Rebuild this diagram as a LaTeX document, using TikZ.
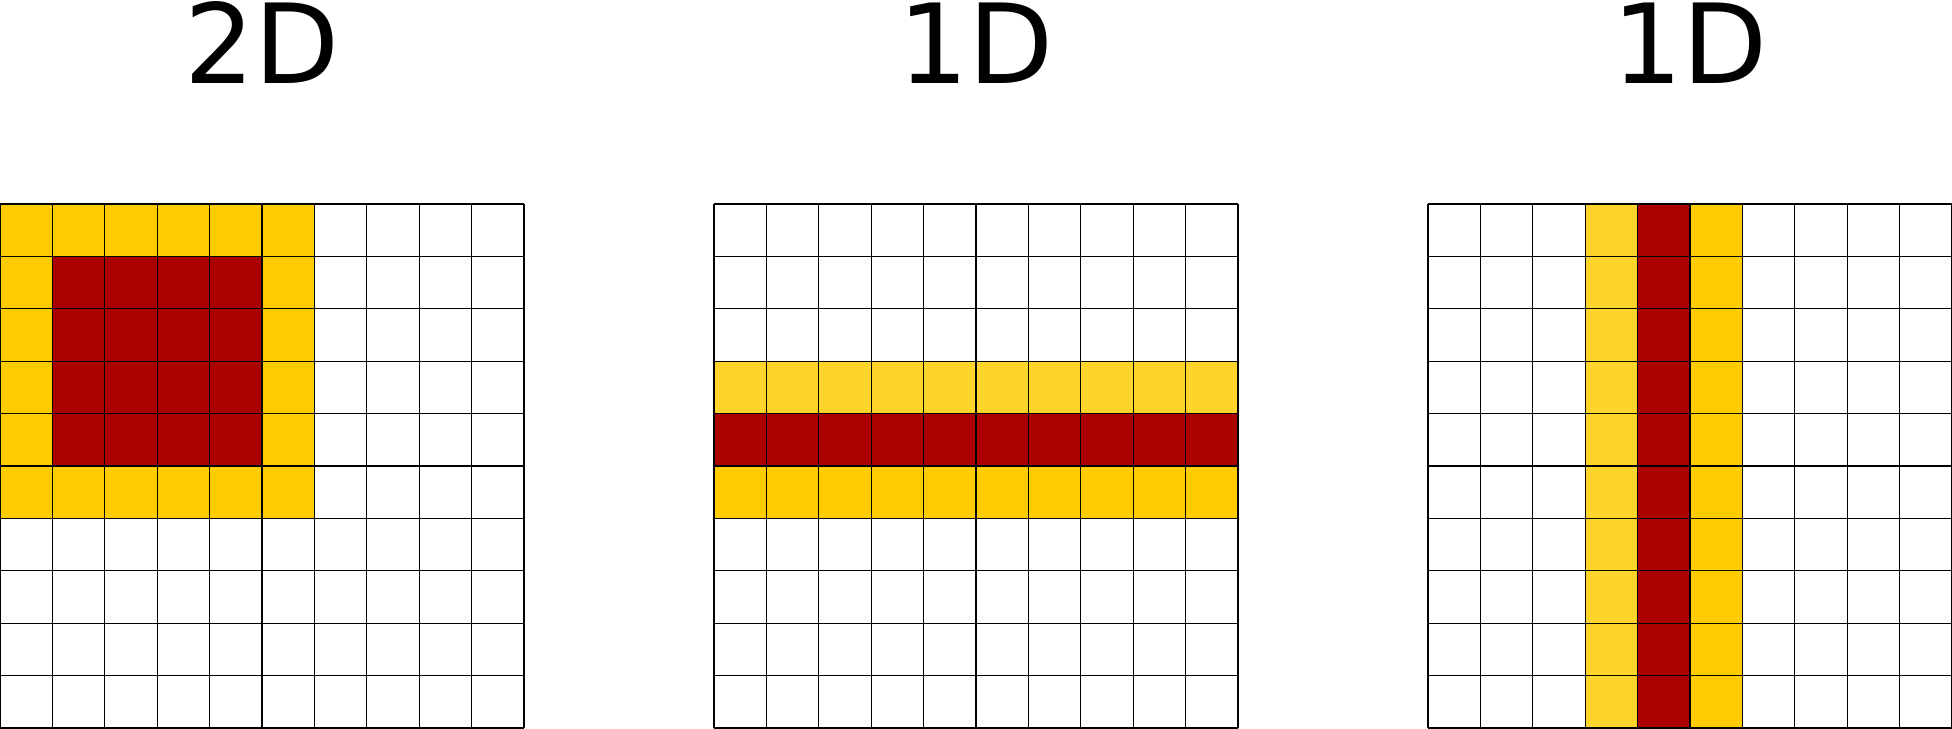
\documentclass[tikz,border=0pt]{standalone}
\usepackage{fontspec}
\setmainfont{DejaVu Sans}
\usepackage{xcolor}
\usepackage{tikz}
\usetikzlibrary{positioning}

\definecolor{cellyellow}{HTML}{FFCC00}
\definecolor{celllight}{HTML}{FFD42A}
\definecolor{cellred}{HTML}{AA0000}

\begin{document}
\begin{tikzpicture}[x=0.5cm, y=0.5cm,
    gridline/.style={line width=0.35pt, step=1},
    title/.style={font=\fontsize{30}{36}\selectfont, anchor=base}]
    \useasboundingbox (0,0) rectangle (37.25,13.893);
    % 2D window
    \fill[cellyellow] (0,4) rectangle (6,10);
    \fill[cellred] (1,5) rectangle (5,9);
    % 1D row
    \fill[celllight] (13.625,6) rectangle (23.625,7);
    \fill[cellred] (13.625,5) rectangle (23.625,6);
    \fill[cellyellow] (13.625,4) rectangle (23.625,5);
    % 1D column
    \fill[celllight] (30.25,0) rectangle (31.25,10);
    \fill[cellred] (31.25,0) rectangle (32.25,10);
    \fill[cellyellow] (32.25,0) rectangle (33.25,10);
    \foreach \dx/\lab [count=\i] in {0/2D, 13.625/1D, 27.25/1D} {
        \draw[gridline, xshift=\dx*0.5cm] (0,0) grid (10,10);
        \node[title] (title\i) at (\dx+5,12.29) {\lab};
    }
\end{tikzpicture}
\end{document}
